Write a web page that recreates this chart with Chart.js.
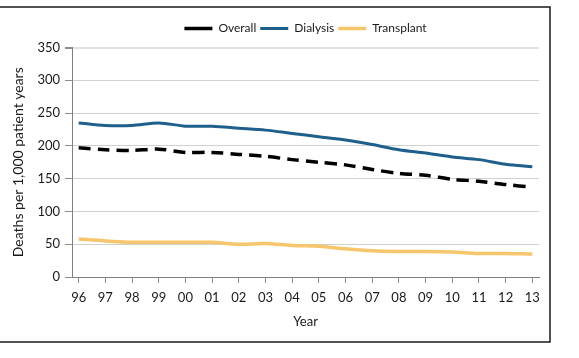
<!DOCTYPE html>
<html>
<head>
<meta charset="utf-8">
<script src="https://cdn.jsdelivr.net/npm/chart.js@4/dist/chart.umd.min.js"></script>
<style>
  html, body { margin: 0; padding: 0; background: #ffffff; }
  #wrap { width: 579px; height: 358px; }
</style>
</head>
<body>
<div id="wrap"><canvas id="c" width="579" height="358"></canvas></div>
<script>
const years = ["96","97","98","99","00","01","02","03","04","05","06","07","08","09","10","11","12","13"];
const overall = [197, 194, 193, 195, 190, 190, 187, 184, 179, 175, 171, 164, 158, 155, 149, 146, 141, 137];
const dialysis = [235, 231, 231, 235, 230, 230, 227, 224, 219, 214, 209, 202, 194, 189, 183, 179, 172, 168];
const transplant = [58, 55, 53, 53, 53, 53, 50, 51, 48, 47, 43, 40, 39, 39, 38, 36, 36, 35];
const yTicks = [0, 50, 100, 150, 200, 250, 300, 350];

const FONT = "Lato";
const toXY = arr => arr.map((v, i) => ({ x: i, y: v }));

const framePlugin = {
  id: 'frame',
  afterDraw(chart) {
    const ctx = chart.ctx;
    ctx.save();
    ctx.strokeStyle = '#1a1a1a';
    ctx.lineWidth = 1.5;
    ctx.beginPath();
    ctx.rect(-2, 7, 552, 335);
    ctx.stroke();
    ctx.restore();
  }
};

new Chart(document.getElementById('c'), {
  type: 'line',
  data: {
    datasets: [
      { label: 'Overall', data: toXY(overall), borderColor: '#000000', backgroundColor: '#000000',
        borderWidth: 3.5, borderDash: [12, 7], pointRadius: 0, tension: 0.3, fill: false },
      { label: 'Dialysis', data: toXY(dialysis), borderColor: '#1f5f8c', backgroundColor: '#1f5f8c',
        borderWidth: 3, pointRadius: 0, tension: 0.3, fill: false },
      { label: 'Transplant', data: toXY(transplant), borderColor: '#f7c56c', backgroundColor: '#f7c56c',
        borderWidth: 3.5, pointRadius: 0, tension: 0.3, fill: false }
    ]
  },
  options: {
    responsive: false,
    animation: false,
    devicePixelRatio: 1,
    layout: { padding: { left: 0, right: 40, top: 18.5, bottom: 0 } },
    plugins: {
      legend: {
        display: true,
        position: 'top',
        fullSize: false,
        weight: 1000,
        labels: {
          usePointStyle: true,
          pointStyle: 'line',
          pointStyleWidth: 28,
          padding: 4,
          color: '#1a1a1a',
          font: { family: FONT, size: 12 }
        }
      },
      title: {
        display: true,
        text: ' ',
        position: 'top',
        weight: 500,
        fullSize: false,
        color: 'rgba(0,0,0,0)',
        font: { size: 1, lineHeight: 1 },
        padding: { top: 1, bottom: 1 }
      },
      tooltip: { enabled: false }
    },
    scales: {
      x: {
        type: 'linear',
        min: -0.25,
        max: 17.25,
        afterBuildTicks: s => { s.ticks = years.map((_, i) => ({ value: i })); },
        afterFit: s => { s.height = 81; },
        ticks: {
          autoSkip: false,
          maxRotation: 0,
          padding: 7,
          color: '#1a1a1a',
          font: { family: FONT, size: 13 },
          callback: v => years[v]
        },
        grid: { display: true, drawOnChartArea: false, drawTicks: true, tickLength: 6, tickColor: '#8c8c8c' },
        border: { display: true, color: '#7f7f7f', width: 1 },
        title: {
          display: true, text: 'Year', color: '#1a1a1a',
          font: { family: FONT, size: 13 }, padding: { top: 4, bottom: 28 }
        }
      },
      y: {
        min: 0,
        max: 350,
        afterBuildTicks: s => { s.ticks = yTicks.map(v => ({ value: v })); },
        afterFit: s => { s.width = 72; },
        ticks: {
          padding: 5,
          color: '#1a1a1a',
          font: { family: FONT, size: 13 }
        },
        grid: {
          color: ctx => (ctx.tick && ctx.tick.value === 350) ? '#e2e2e2' : '#d0d0d0',
          lineWidth: ctx => (ctx.tick && ctx.tick.value === 350) ? 2 : 1,
          tickLength: 7,
          tickColor: '#8c8c8c'
        },
        border: { display: true, color: '#7f7f7f', width: 1 },
        title: {
          display: true, text: 'Deaths per 1,000 patient years', color: '#1a1a1a',
          font: { family: FONT, size: 14 }, padding: { top: 10, bottom: 0 }
        }
      }
    }
  },
  plugins: [framePlugin]
});
</script>
</body>
</html>
